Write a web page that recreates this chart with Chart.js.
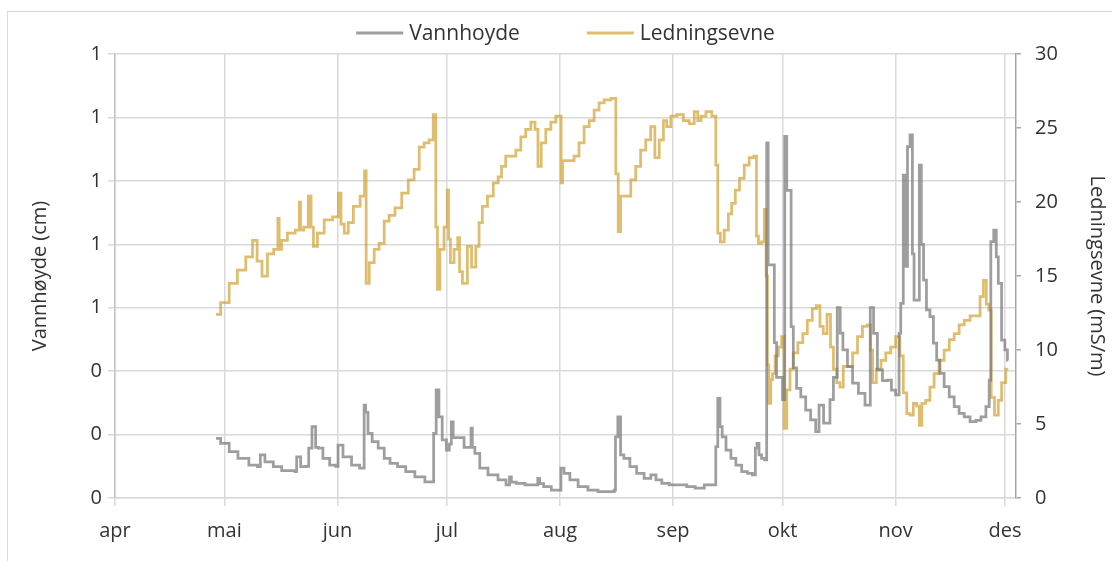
<!DOCTYPE html>
<html>
<head>
<meta charset="utf-8">
<script src="https://cdn.jsdelivr.net/npm/chart.js@4.4.1/dist/chart.umd.min.js"></script>
<style>
  html, body { margin: 0; background: #fff; }
  #wrap { width: 1112px; height: 561px; }
</style>
</head>
<body>
<div id="wrap"><canvas id="chart" width="1112" height="561"></canvas></div>
<script>
// x = days after 1 April
const monthDays = [0, 30, 61, 91, 122, 153, 183, 214, 244];
const monthLabels = ['apr', 'mai', 'jun', 'jul', 'aug', 'sep', 'okt', 'nov', 'des'];

const vannDays = [
  27.7, 30.2, 32.4, 35.0, 38.4, 39.7, 40.0, 42.2, 44.6, 46.8, 49.1, 49.6, 50.0, 51.8, 53.0, 53.2,
  54.8, 55.2, 56.3, 57.7, 60.0, 61.0, 61.3, 63.7, 66.0, 68.1, 68.5, 68.9, 69.8, 71.2, 73.1, 74.5,
  76.3, 78.6, 80.8, 83.6, 86.3, 87.2, 87.5, 88.6, 89.0, 90.4, 91.3, 92.0, 92.4, 93.0, 95.0, 96.4,
  97.5, 97.7, 98.2, 99.1, 100.9, 103.6, 106.4, 108.0, 108.3, 109.0, 111.0, 113.8, 115.8, 116.0,
  116.8, 118.2, 121.0, 122.1, 122.4, 123.8, 125.6, 128.3, 131.0, 133.8, 136.6, 137.1, 137.3, 138.4,
  138.8, 140.2, 142.1, 143.9, 146.2, 147.6, 149.0, 150.8, 153.1, 155.8, 157.7, 160.4, 162.7, 164.5,
  164.9, 165.6, 166.1, 166.8, 168.2, 169.5, 170.9, 172.7, 174.1, 175.4, 175.7, 176.3, 176.8, 177.7,
  178.5, 178.8, 179.3, 180.6, 180.9, 181.8, 182.8, 183.2, 183.5, 183.7, 184.6, 185.2, 185.5, 186.4,
  187.3, 188.7, 190.0, 191.4, 192.8, 193.2, 194.0, 194.5, 195.5, 196.5, 197.4, 198.6, 199.0, 200.1,
  201.5, 202.9, 204.7, 206.5, 207.6, 208.3, 209.7, 211.1, 212.4, 213.3, 214.7, 215.2, 215.6, 216.6,
  217.0, 217.5, 218.4, 218.8, 219.3, 220.2, 220.8, 221.3, 222.0, 222.9, 223.9, 224.8, 225.7, 226.6,
  228.0, 229.4, 230.7, 232.1, 233.5, 235.3, 236.7, 238.1, 239.4, 239.9, 240.3, 241.5, 241.7, 242.6,
  243.5, 244.4, 244.9
];
const vannhoyde = [
  0.188, 0.172, 0.146, 0.125, 0.104, 0.099, 0.136, 0.114, 0.099, 0.086, 0.086, 0.083, 0.130, 0.099, 0.100, 0.157,
  0.225, 0.160, 0.157, 0.125, 0.104, 0.100, 0.167, 0.130, 0.104, 0.094, 0.293, 0.270, 0.204, 0.178, 0.157, 0.125,
  0.109, 0.099, 0.083, 0.067, 0.051, 0.051, 0.204, 0.341, 0.256, 0.183, 0.151, 0.170, 0.240, 0.190, 0.190, 0.160,
  0.160, 0.220, 0.160, 0.141, 0.094, 0.073, 0.057, 0.041, 0.067, 0.050, 0.046, 0.041, 0.041, 0.062,
  0.045, 0.036, 0.025, 0.025, 0.094, 0.078, 0.057, 0.036, 0.025, 0.020, 0.020, 0.025, 0.193, 0.256,
  0.136, 0.125, 0.099, 0.078, 0.062, 0.073, 0.057, 0.046, 0.041, 0.041, 0.036, 0.031, 0.041, 0.041,
  0.162, 0.314, 0.225, 0.193, 0.151, 0.125, 0.104, 0.083, 0.078, 0.073, 0.157, 0.172, 0.136, 0.125,
  0.120, 1.120, 0.735, 0.735, 0.490, 0.380, 0.380, 0.310, 0.310, 1.140, 0.970, 0.970, 0.540, 0.410,
  0.346, 0.319, 0.277, 0.246, 0.209, 0.293, 0.293, 0.236, 0.236, 0.310, 0.380, 0.600, 0.520, 0.467,
  0.414, 0.362, 0.330, 0.293, 0.600, 0.519, 0.404, 0.370, 0.372, 0.340, 0.325, 0.519, 0.614, 1.018,
  0.730, 1.108, 1.145, 0.770, 0.624, 0.624, 1.050, 0.800, 0.687, 0.593, 0.572, 0.488, 0.435, 0.393,
  0.351, 0.319, 0.288, 0.267, 0.256, 0.241, 0.245, 0.256, 0.288, 0.372, 0.808, 0.845, 0.760, 0.677,
  0.498, 0.467, 0.435
];

const ledDays = [
  27.7, 30.2, 32.4, 34.7, 37.0, 38.4, 39.5, 41.1, 42.5, 44.5, 44.8, 45.2, 46.1, 48.4, 50.4, 50.7,
  51.0, 52.5, 53.5, 54.0, 54.8, 56.2, 58.5, 60.8, 61.7, 62.2, 63.5, 64.4, 66.3, 68.1, 68.7, 69.0,
  70.4, 71.7, 73.1, 74.5, 75.8, 77.7, 79.5, 81.3, 82.7, 84.1, 85.4, 86.8, 87.7, 88.2, 88.6, 89.5,
  90.9, 91.3, 91.6, 92.3, 93.6, 94.3, 94.6, 95.9, 97.3, 98.2, 99.6, 100.0, 101.4, 102.8, 104.6, 105.5,
  106.4, 107.8, 109.2, 110.6, 111.9, 113.3, 114.7, 115.6, 116.3, 117.4, 118.8, 120.2, 121.5, 122.2,
  122.4, 123.0, 125.2, 126.5, 127.9, 129.3, 130.7, 132.0, 133.4, 134.8, 137.1, 137.5, 138.4, 138.8,
  140.7, 142.1, 143.4, 144.8, 146.2, 147.5, 148.5, 149.9, 150.8, 151.7, 153.1, 154.9, 156.7, 158.1,
  159.5, 160.0, 161.3, 162.7, 164.5, 164.9, 165.6, 166.3, 167.7, 168.6, 169.5, 170.6, 171.8, 173.2,
  174.5, 175.7, 176.0, 176.8, 177.7, 178.3, 178.7, 179.0, 179.5, 180.0, 180.5, 181.4, 182.3, 183.2,
  183.7, 184.6, 185.5, 186.4, 188.0, 189.1, 190.5, 191.8, 192.8, 193.7, 194.6, 195.8, 196.5, 197.4,
  198.3, 199.2, 200.1, 201.5, 202.9, 204.2, 205.6, 206.8, 207.4, 208.0, 209.4, 210.6, 212.0, 213.3,
  214.7, 215.6, 216.6, 217.5, 218.4, 219.3, 220.2, 220.8, 221.6, 222.9, 223.9, 225.2, 226.6, 228.0,
  229.4, 230.7, 232.1, 233.5, 235.3, 236.7, 237.6, 238.5, 239.2, 239.9, 240.5, 241.7, 242.6, 243.5,
  244.9
];
const ledningsevne = [
  12.4, 13.2, 14.5, 15.4, 16.3, 17.4, 16.0, 15.0, 16.5, 16.8, 18.9, 16.8, 17.4, 17.9, 18.1, 20.0,
  18.1, 18.3, 20.4, 18.3, 17.0, 17.9, 18.8, 19.0, 20.6, 18.5, 17.9, 18.6, 19.7, 20.4, 22.1, 14.5,
  15.9, 16.8, 17.2, 18.7, 19.1, 19.6, 20.6, 21.5, 22.2, 23.7, 24.0, 24.2, 25.9, 18.3, 14.1, 16.8,
  18.3, 20.8, 17.5, 15.9, 16.8, 17.6, 15.3, 14.5, 17.0, 15.6, 17.0, 18.6, 19.7, 20.4, 21.3, 21.7,
  22.4, 23.1, 23.1, 23.5, 24.4, 24.9, 25.4, 24.9, 22.4, 24.0, 24.9, 25.4, 25.8, 25.8,
  21.3, 22.8, 22.8, 23.1, 24.0, 25.1, 25.5, 26.2, 26.7, 26.9, 27.0, 21.9, 18.0, 20.4,
  20.4, 21.5, 22.4, 23.5, 24.2, 25.1, 23.0, 24.2, 25.5, 25.1, 25.8, 25.9, 25.5, 25.3,
  26.1, 25.5, 25.8, 26.1, 25.8, 22.5, 17.9, 17.3, 18.1, 19.2, 19.9, 20.8, 21.6, 22.5,
  23.0, 23.1, 17.7, 17.2, 17.3, 19.5, 15.0, 9.0, 6.4, 8.0, 8.4, 9.6, 10.2, 10.9,
  4.7, 7.3, 8.7, 9.8, 10.5, 11.1, 12.0, 12.8, 13.0, 11.6, 11.1, 12.4, 10.2, 8.7,
  7.8, 7.5, 8.9, 8.9, 9.8, 10.9, 11.6, 11.7, 10.0, 7.8, 8.7, 9.3, 9.8, 10.2,
  10.9, 9.6, 7.1, 5.7, 5.6, 6.4, 6.2, 4.9, 6.4, 6.6, 7.5, 8.4, 9.3, 10.0,
  10.7, 11.1, 11.7, 12.0, 12.3, 12.3, 13.6, 14.7, 13.1, 12.7, 6.8, 5.6, 6.6, 7.8,
  8.7
];

const grey = 'rgba(120, 120, 120, 0.72)';
const gold = 'rgba(205, 155, 35, 0.66)';
const textColor = '#333333';
const font = { family: '"Open Sans", sans-serif', size: 20 };
const legendFont = { family: '"Open Sans", sans-serif', size: 21 };

const toPoints = (xs, ys) => xs.map((x, i) => ({ x: x, y: ys[i] }));

// light frame round the chart, as in the spreadsheet export
const framePlugin = {
  id: 'frame',
  beforeDraw(chart) {
    const c = chart.ctx;
    c.save();
    c.fillStyle = '#ffffff';
    c.fillRect(0, 0, chart.width, chart.height);
    c.strokeStyle = '#d9d9d9';
    c.lineWidth = 1;
    c.strokeRect(7.5, 11.5, chart.width + 20, chart.height + 20);
    c.restore();
  }
};

// legend centred over the plot area, with wide gaps like the original
const topLegend = {
  id: 'topLegend',
  afterDraw(chart) {
    const c = chart.ctx;
    const area = chart.chartArea;
    const lineLen = 47, gapText = 6, gapItem = 67, y = 33;
    c.save();
    c.font = legendFont.size + 'px ' + legendFont.family;
    c.textBaseline = 'middle';
    const items = chart.data.datasets.map(ds => ({ label: ds.label, color: ds.borderColor, w: c.measureText(ds.label).width }));
    let total = 0;
    items.forEach((it, i) => { total += lineLen + gapText + it.w + (i ? gapItem : 0); });
    let x = (area.left + area.right) / 2 - total / 2;
    items.forEach(it => {
      c.strokeStyle = it.color;
      c.lineWidth = 3;
      c.beginPath();
      c.moveTo(x, y);
      c.lineTo(x + lineLen, y);
      c.stroke();
      c.fillStyle = textColor;
      c.fillText(it.label, x + lineLen + gapText, y + 1);
      x += lineLen + gapText + it.w + gapItem;
    });
    c.restore();
  }
};

new Chart(document.getElementById('chart'), {
  type: 'line',
  data: {
    datasets: [
      {
        label: 'Vannhoyde',
        data: toPoints(vannDays, vannhoyde),
        yAxisID: 'y',
        borderColor: grey,
        borderWidth: 2.75,
        pointRadius: 0,
        stepped: 'middle'
      },
      {
        label: 'Ledningsevne',
        data: toPoints(ledDays, ledningsevne),
        yAxisID: 'y2',
        borderColor: gold,
        borderWidth: 2.75,
        pointRadius: 0,
        stepped: 'middle'
      }
    ]
  },
  options: {
    responsive: false,
    animation: false,
    devicePixelRatio: 1,
    layout: { padding: { top: 54, left: 0, right: 0, bottom: 0 } },
    plugins: {
      legend: { display: false },
      tooltip: { enabled: false }
    },
    scales: {
      x: {
        type: 'linear',
        min: 0,
        max: 247,
        afterBuildTicks: s => { s.ticks = monthDays.map(v => ({ value: v })); },
        afterFit: s => { s.height = 63; },
        ticks: {
          callback: v => monthLabels[monthDays.indexOf(v)],
          font: font,
          color: textColor,
          padding: 13,
          maxRotation: 0,
          autoSkip: false
        },
        grid: { color: '#d9d9d9', lineWidth: 1.5, tickLength: 8 },
        border: { color: '#d9d9d9', width: 1.5 }
      },
      y: {
        position: 'left',
        min: 0,
        max: 1.4,
        afterFit: s => { s.width = 115; },
        ticks: {
          stepSize: 0.2,
          callback: v => Number(v).toFixed(0),
          font: font,
          color: textColor,
          padding: 6
        },
        grid: { color: '#d9d9d9', lineWidth: 1.5, tickLength: 7 },
        border: { color: '#c4c4c4', width: 1.5 },
        title: {
          display: true,
          text: 'Vannhøyde (cm)',
          font: font,
          color: textColor,
          padding: { top: 28, bottom: 0 }
        }
      },
      y2: {
        position: 'right',
        min: 0,
        max: 30,
        afterFit: s => { s.width = 96; },
        ticks: {
          stepSize: 5,
          font: font,
          color: textColor,
          padding: 14
        },
        grid: { drawOnChartArea: false, tickLength: 5, tickColor: '#a6a6a6', lineWidth: 1.5 },
        border: { color: '#a6a6a6', width: 1.5 },
        title: {
          display: true,
          text: 'Ledningsevne (mS/m)',
          font: font,
          color: textColor,
          padding: { top: 3, bottom: 0 }
        }
      }
    }
  },
  plugins: [framePlugin, topLegend]
});
</script>
</body>
</html>
